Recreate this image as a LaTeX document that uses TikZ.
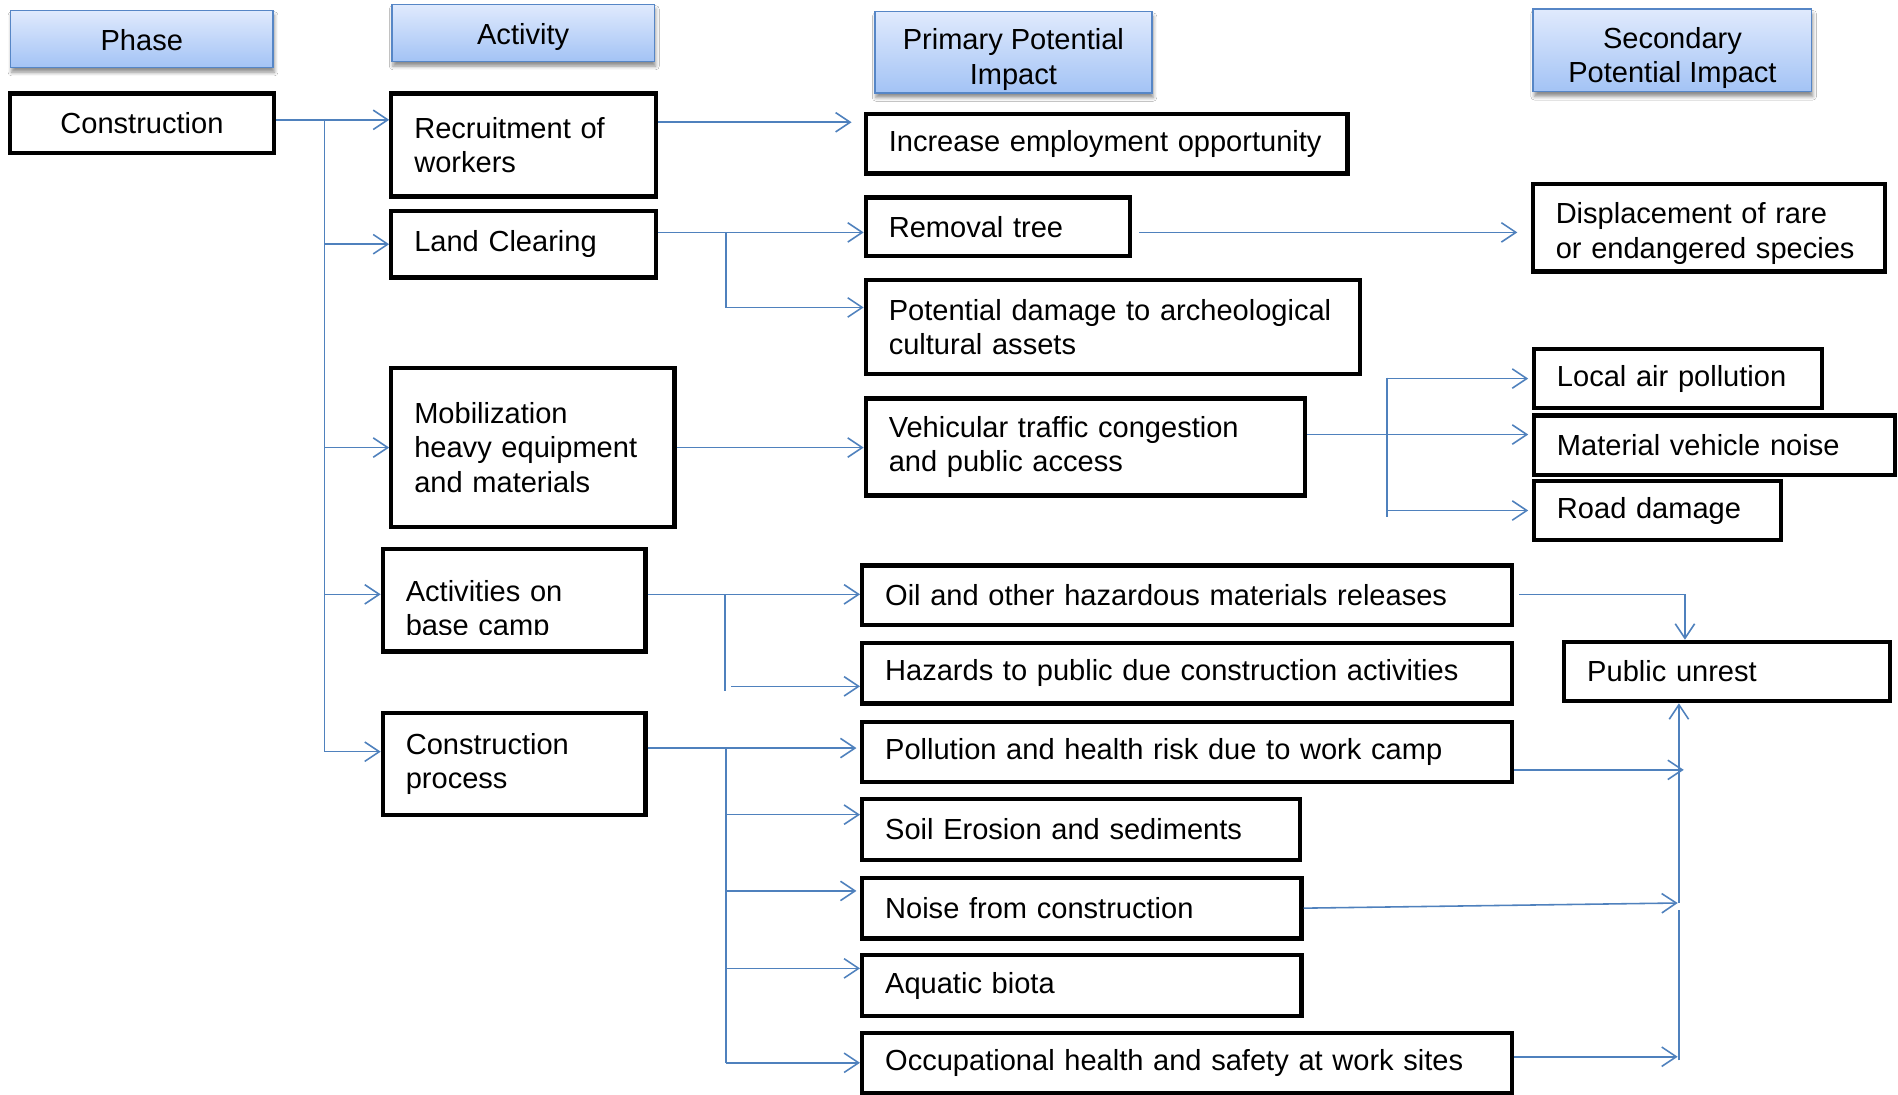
\documentclass[tikz,border=0pt]{standalone}
\usepackage{fontspec}
\setmainfont{Liberation Sans}
\usetikzlibrary{arrows.meta,shadows.blur}
\definecolor{linkblue}{RGB}{79,129,189}
\definecolor{hdtop}{RGB}{224,234,253}
\definecolor{hdbot}{RGB}{163,195,245}
\definecolor{hdline}{RGB}{86,134,198}
\begin{document}
\begin{tikzpicture}[x=1pt,y=-1pt,
  font=\fontsize{24}{28.5}\selectfont,
  box/.style={draw=black, line width=3.5pt, inner xsep=19pt, inner ysep=0pt, align=left, anchor=north west, xshift=-1.5pt, yshift=1.5pt},
  hdr/.style={draw=hdline, line width=1.3pt, top color=hdtop, bottom color=hdbot, align=center, anchor=north west, inner sep=0pt,
    blur shadow={shadow xshift=1pt, shadow yshift=-4pt, shadow blur radius=3pt, shadow opacity=45}},
  link/.style={draw=linkblue, line width=1.3pt},
  arr/.style={link, -{Straight Barb[length=12pt,width=16pt]}}]
\path[use as bounding box, fill=white] (0,0) rectangle (1568,904);

% headers
\node[hdr, minimum width=217pt, minimum height=47pt] (hphase) at (8,8) {\rule{0pt}{19.5pt}Phase};
\node[hdr, minimum width=217pt, minimum height=47pt] (hact) at (323,3) {\rule{0pt}{23.5pt}Activity};
\node[hdr, minimum width=229pt, minimum height=67pt] (hprim) at (722,9) {\rule{0pt}{29.5pt}Primary Potential\\Impact};
\node[hdr, minimum width=230pt, minimum height=68pt] (hsec) at (1266,7) {\rule{0pt}{29.5pt}Secondary\\Potential Impact};

% phase / activities
\node[box, align=center, text width=180pt, minimum height=49pt] (constr) at (8,77) {Construction};
\node[box, text width=181pt, minimum height=85pt] (recruit) at (323,77) {Recruitment of\\workers};
\node[box, text width=181pt, minimum height=55pt] (land) at (323,174) {Land Clearing};
\node[box, text width=196pt, minimum height=131pt] (mobil) at (323,304) {Mobilization\\heavy equipment\\and materials};
\node[box, text width=179pt, minimum height=85pt] (act) at (316,453) {};
\begin{scope}
\clip (316,453) rectangle (533,524);
\node[box, draw=none, text width=179pt, minimum height=85pt, yshift=-9pt] (acttext) at (316,453) {Activities on\\base camp};
\end{scope}
\node[box, text width=179pt, minimum height=84pt] (cproc) at (316,589) {Construction\\process};

% primary impacts
\node[box, text width=360pt, minimum height=49pt] (incr) at (715,94) {Increase employment opportunity};
\node[box, text width=180pt, minimum height=48pt] (removal) at (715,163) {Removal tree};
\node[box, text width=370pt, minimum height=78pt] (damage) at (715,231) {Potential damage to archeological\\cultural assets};
\node[box, text width=325pt, minimum height=80pt] (vehic) at (715,329) {Vehicular traffic congestion\\and public access};
\node[box, text width=499pt, minimum height=49pt] (oil) at (712,467) {Oil and other hazardous materials releases};
\node[box, text width=499pt, minimum height=50pt] (haz) at (712,531) {Hazards to public due construction activities};
\node[box, text width=499pt, minimum height=50pt] (poll) at (712,596) {Pollution and health risk due to work camp};
\node[box, text width=324pt, minimum height=50pt] (soil) at (712,660) {Soil Erosion and sediments};
\node[box, text width=325pt, minimum height=50pt] (noise) at (712,725) {Noise from construction};
\node[box, text width=325pt, minimum height=50pt] (aqua) at (712,789) {Aquatic biota};
\node[box, text width=499pt, minimum height=50pt] (occ) at (712,853) {Occupational health and safety at work sites};

% secondary impacts
\node[box, text width=253pt, minimum height=72pt] (displ) at (1266,152) {\rule{0pt}{27pt}Displacement of rare\\or endangered species};
\node[box, text width=200pt, minimum height=49pt] (air) at (1267,288) {Local air pollution};
\node[box, text width=260pt, minimum height=49pt] (noiseV) at (1267,343) {Material vehicle noise};
\node[box, text width=166pt, minimum height=49pt] (road) at (1267,397) {Road damage};
\node[box, text width=231pt, minimum height=49pt] (unrest) at (1292,530) {Public unrest};

% connectors: phase -> activities
\coordinate (j1) at (268,99);
\coordinate (j4) at (268,491);
\coordinate (j5) at (268,621);
\draw[arr] (constr.east |- j1) -- (recruit.west |- j1);
\draw[link] (j1) -- (j5);
\draw[arr] (j1 |- land.west) -- (land.west);
\draw[arr] (j1 |- mobil.west) -- (mobil.west);
\draw[arr] (j4) -- (act.west |- j4);
\draw[arr] (j5) -- (cproc.west |- j5);

% activities -> primary
\coordinate (r1) at (705,101);
\draw[arr, shorten >=10pt] (recruit.east |- r1) -- (incr.west |- r1);
\coordinate (l1) at (600,192);
\coordinate (l2) at (600,254);
\draw[arr] (land.east |- l1) -- (removal.west |- l1);
\draw[arr] (l1) -- (l2) -- (damage.west |- l2);
\draw[arr] (mobil.east) -- (vehic.west |- mobil.east);
\coordinate (a1) at (599,491);
\coordinate (a2) at (599,571);
\coordinate (a3) at (604,567);
\draw[arr] (act.east |- a1) -- (oil.west |- a1);
\draw[link] (a1) -- (a2);
\draw[arr] (a3) -- (haz.west |- a3);
\coordinate (c1) at (600,618);
\coordinate (c2) at (600,878);
\coordinate (c3) at (600,673);
\coordinate (c4) at (600,736);
\coordinate (c5) at (600,800);
\draw[arr, shorten >=3pt] (cproc.east |- c1) -- (poll.west |- c1);
\draw[link] (c1) -- (c2);
\draw[arr] (c3) -- (soil.west |- c3);
\draw[arr, shorten >=3pt] (c4) -- (noise.west |- c4);
\draw[arr] (c5) -- (aqua.west |- c5);
\draw[arr] (c2) -- (occ.west |- c2);

% primary -> secondary
\coordinate (rt) at (1000,192);
\draw[arr, shorten <=6pt, shorten >=11pt] (removal.east |- rt) -- (displ.west |- rt);
\coordinate (v0) at (1146,312);
\coordinate (v1) at (1146,359);
\coordinate (v3) at (1146,427);
\draw[arr, shorten >=3pt] (vehic.east |- v1) -- (noiseV.west |- v1);
\draw[link] (v0) -- (v3);
\draw[arr, shorten >=3pt] (v0 |- air.west) -- (air.west);
\draw[arr, shorten >=3pt] (v0 |- road.west) -- (road.west);

% -> public unrest
\coordinate (u1) at (1392,491);
\draw[arr, shorten <=4pt] (oil.east |- u1) -- (u1) -- (u1 |- unrest.north);
\coordinate (b1) at (1391,636);
\coordinate (b2) at (1386,746);
\coordinate (b3) at (1386,873);
\coordinate (b4) at (1387,876);
\coordinate (b5) at (1387,752);
\coordinate (b6) at (1387,746);
\draw[arr] (poll.east |- b1) -- (b1);
\draw[arr] (noise.east) -- (b2);
\draw[arr] (occ.east |- b3) -- (b3);
\draw[link] (b4) -- (b5);
\draw[arr] (b6) -- (b6 |- unrest.south);
\end{tikzpicture}
\end{document}
